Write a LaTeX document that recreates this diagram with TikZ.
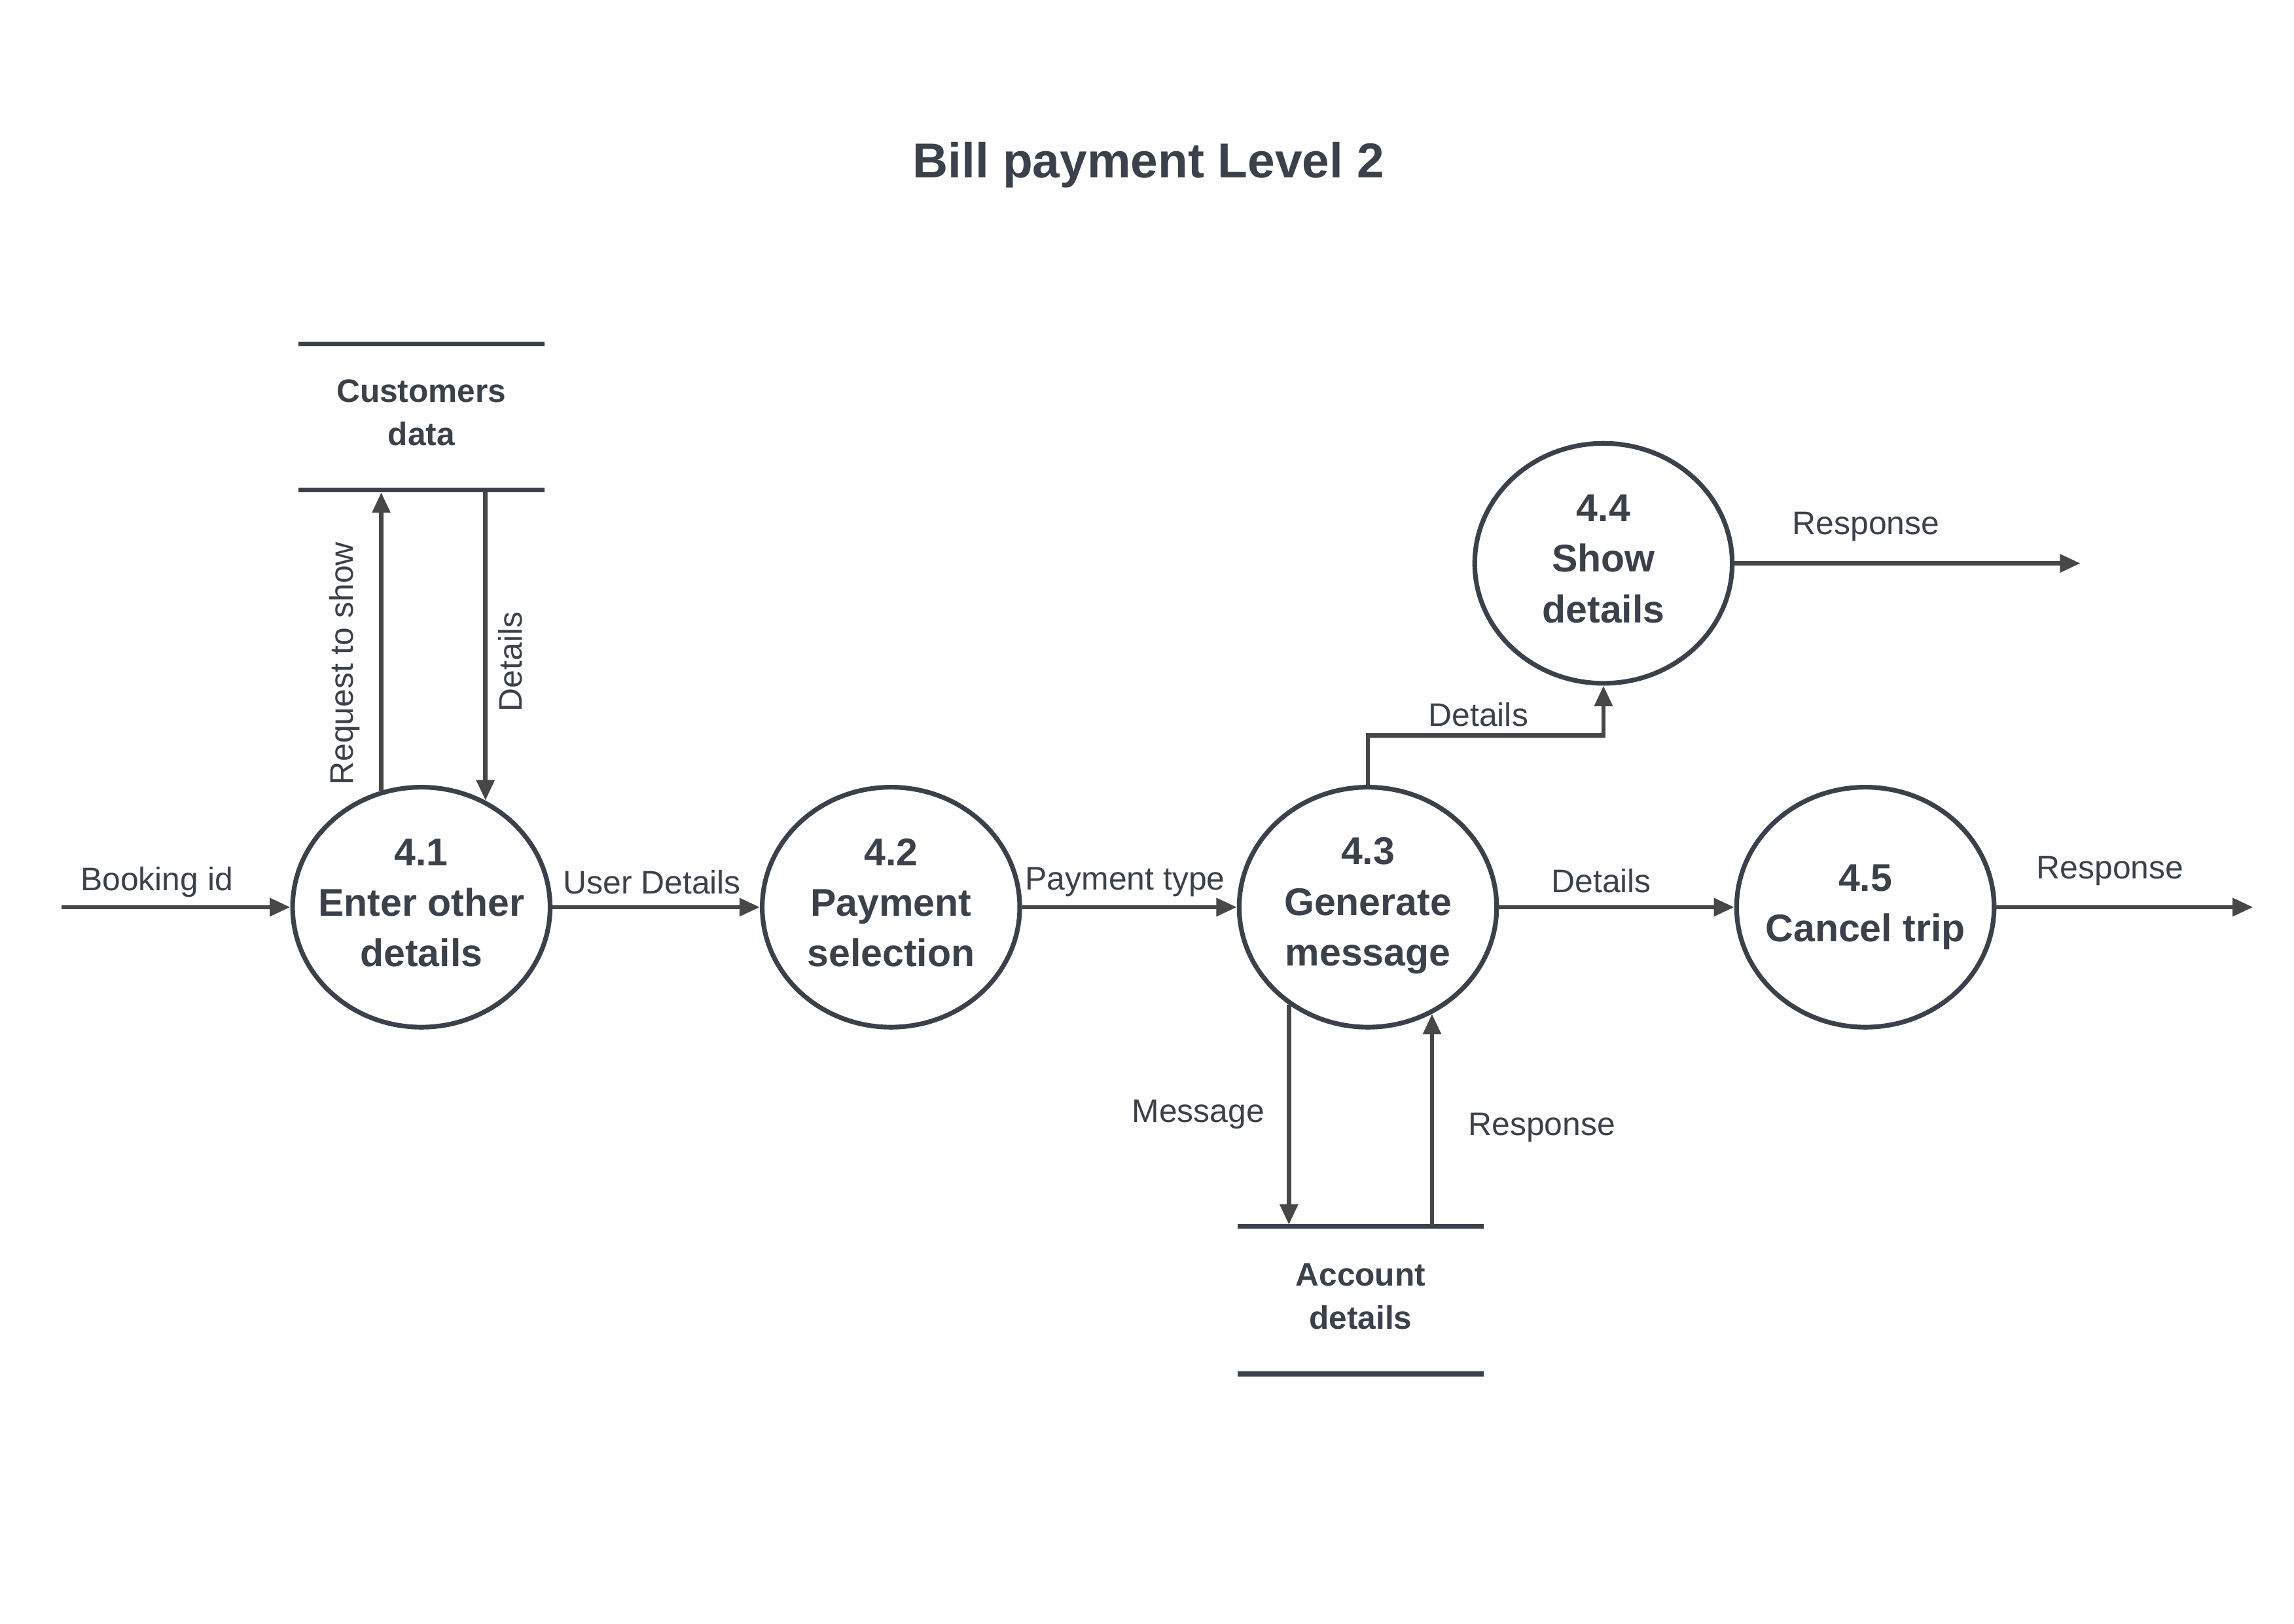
\documentclass[tikz,border=0pt]{standalone}
\usepackage{fontspec}
\setmainfont{Liberation Sans}
\usetikzlibrary{arrows.meta,shapes.geometric,calc}
\definecolor{ink}{HTML}{3A414A}
\definecolor{wire}{HTML}{474747}
\begin{document}
\begin{tikzpicture}[x=1pt,y=-1pt,
  proc/.style={ellipse, draw=ink, line width=3.2pt, minimum width=176pt, minimum height=164pt, inner sep=0pt},
  ptext/.style={text=ink, font=\bfseries\fontsize{26.4}{34.5}\selectfont, align=center, inner sep=0pt},
  stext/.style={text=ink, font=\bfseries\fontsize{22.2}{29.5}\selectfont, align=center, inner sep=0pt},
  sline/.style={draw=ink, line width=3.2pt},
  flow/.style={draw=wire, line width=3pt, -{Triangle[length=14pt,width=12pt]}},
  lbl/.style={text=ink, font=\fontsize{22.3}{26}\selectfont, inner sep=0pt},
]
\path[use as bounding box] (0,0) rectangle (1568,1109.5);

% title
\node[text=ink, font=\bfseries\fontsize{33.5}{40}\selectfont, inner sep=0pt] (title) at (785,113) {Bill payment Level 2};

% processes
\node[proc] (c41) at (288,620) {};
\node[proc] (c42) at (609,620) {};
\node[proc] (c43) at (935,620) {};
\node[proc] (c44) at (1096,385) {};
\node[proc] (c45) at (1275,620) {};
\node[ptext] (t41) at ($(c41)+(0,-3)$) {4.1\\Enter other\\details};
\node[ptext] (t42) at ($(c42)+(0,-3)$) {4.2\\Payment\\selection};
\node[ptext] (t43) at ($(c43)+(0,-1)$) {4.3\\Generate\\message};
\node[ptext] (t44) at ($(c44)+(0,-3)$) {4.4\\Show\\details};
\node[ptext] (t45) at ($(c45)+(0,0)$) {4.5\\Cancel trip};

% data stores
\draw[sline] (204,235) -- (372,235);
\draw[sline] (204,335) -- (372,335);
\node[stext] (cd) at (288,282) {Customers\\data};
\coordinate (cdb) at (288,336.5);
\draw[sline] (846,838) -- (1014,838);
\draw[sline] (846,939) -- (1014,939);
\node[stext] (ad) at (930,886) {Account\\details};
\coordinate (adt) at (930,837);

% flows
\coordinate (bin) at (42,620);
\coordinate (r44) at (1422,385);
\coordinate (r45) at (1540,620);

\draw[flow] (bin) -- node[lbl, pos=0.417, yshift=17pt] (l1) {Booking id} (c41.west);
\draw[flow] (c41.east) -- node[lbl, pos=0.48, yshift=17pt] (l2) {User Details} (c42.west);
\draw[flow] (c42.east) -- node[lbl, pos=0.48, yshift=17pt] (l3) {Payment type} (c43.west);
\draw[flow] (c43.east) -- node[lbl, pos=0.435, yshift=18pt] (l4) {Details} (c45.west);
\draw[flow] (c45.east) -- node[lbl, pos=0.443, yshift=25pt] (l5) {Response} (r45);
\draw[flow] (c44.east) -- node[lbl, pos=0.38, yshift=25pt] (l6) {Response} (r44);

\draw[flow] (c41.109) -- node[lbl, pos=0.426, xshift=-25pt, rotate=90] (l7) {Request to show} (c41.109 |- cdb);
\draw[flow] (c41.59 |- cdb) -- node[lbl, pos=0.55, xshift=17pt, rotate=90] (l8) {Details} (c41.59);

\draw[flow] (c43.231) -- node[lbl, pos=0.5, xshift=-62pt] (l9) {Message} (c43.231 |- adt);
\draw[flow] (c43.301 |- adt) -- node[lbl, pos=0.46, xshift=75pt] (l10) {Response} (c43.301);

\coordinate (b1) at ($(c43.north)!0.5!(c44.south)$);
\draw[flow] (c43.north) |- (b1) -| (c44.south);
\node[lbl] (l11) at ($(b1)+(-5,-14)$) {Details};
\end{tikzpicture}
\end{document}
